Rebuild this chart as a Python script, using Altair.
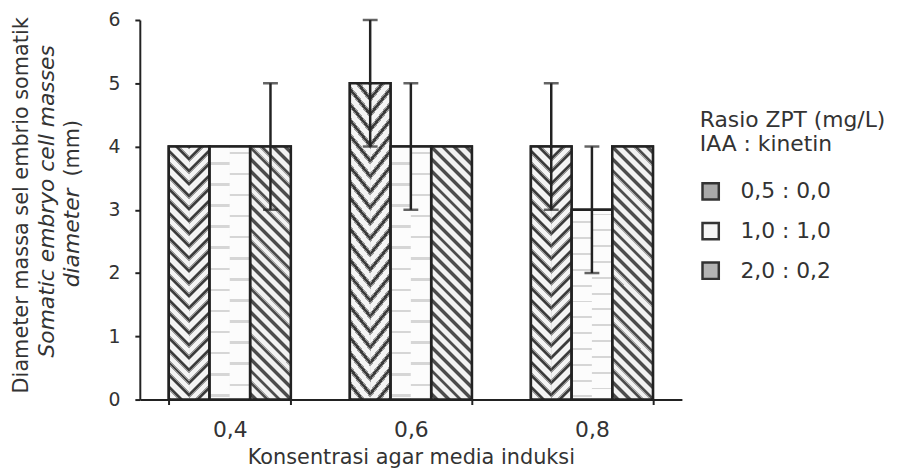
import altair as alt
import pandas as pd

# ---------------- data ----------------
conc = ["0,4", "0,6", "0,8"]
series = ["0,5 : 0,0", "1,0 : 1,0", "2,0 : 0,2"]
mean_s1 = [4, 5, 4]
mean_s2 = [4, 4, 3]
mean_s3 = [4, 4, 4]
err_s1 = [0, 1, 1]
err_s2 = [0, 1, 1]
err_s3 = [1, 0, 0]
legend_fill = ["#a9a9a9", "#f5f5f5", "#b4b4b4"]

y_title_1 = "Diameter massa sel embrio somatik"
y_title_2 = "Somatic embryo cell masses"
y_title_3a = "diameter"
y_title_3b = "(mm)"
x_title = "Konsentrasi agar media induksi"
legend_title = ["Rasio ZPT (mg/L)", "IAA : kinetin"]
y_ticks = [0, 1, 2, 3, 4, 5, 6]

FONT = "DejaVu Sans"
TXT = "#333333"
INK = "#222222"

means = [mean_s1, mean_s2, mean_s3]
errs = [err_s1, err_s2, err_s3]
rows = []
for i, s in enumerate(series):
    for j, c in enumerate(conc):
        m, e = means[i][j], errs[i][j]
        rows.append({"conc": c, "series": s, "mean": m, "err": e,
                     "lo": m - e, "hi": m + e})
df = pd.DataFrame(rows)

halves = [f"{s}|{side}" for s in series for side in ("L", "R")]
hrows = []
for r in rows:
    for side in ("L", "R"):
        d = dict(r)
        d["half"] = f"{r['series']}|{side}"
        hrows.append(d)
dfh = pd.DataFrame(hrows)


# ---------------- pattern fills (linear gradients) ----------------
def gradient(n, template, x1, y1, x2, y2, phase=0.0):
    stops = []
    for k in range(-1, n + 1):
        for a, b, col in template:
            o1 = (k + a + phase) / n
            o2 = (k + b + phase) / n
            o1, o2 = max(0.0, o1), min(1.0, o2)
            if o2 <= o1:
                continue
            stops.append(alt.GradientStop(offset=round(o1, 5), color=col))
            stops.append(alt.GradientStop(offset=round(o2, 5), color=col))
    return alt.LinearGradient(gradient="linear", stops=stops,
                              x1=x1, y1=y1, x2=x2, y2=y2)


chevron_t = [(0.00, 0.12, "#3c3c3c"), (0.12, 0.24, "#9a9a9a"),
             (0.24, 0.76, "#f4f4f4"), (0.76, 0.88, "#9a9a9a"),
             (0.88, 1.00, "#3c3c3c")]
diag_t = [(0.00, 0.25, "#f2f2f2"), (0.25, 0.35, "#a8a8a8"),
          (0.35, 0.65, "#4c4c4c"), (0.65, 0.75, "#a8a8a8"),
          (0.75, 1.00, "#f2f2f2")]
dots_t = [(0.00, 0.74, "#fcfcfc"), (0.74, 0.86, "#d6d6d6"),
          (0.86, 1.00, "#fcfcfc")]

# half bar ~20.5 x 255 px
r_h = 20.5 / 255.0
s_h = (r_h + 1) / (r_h * r_h + 1)
grad_1L = gradient(22, chevron_t, 0, 1, s_h * r_h, 1 - s_h)
grad_1R = gradient(22, chevron_t, 0, 0, s_h * r_h, s_h)
grad_2L = gradient(12, dots_t, 0, 0, 0, 1, 0.0)
grad_2R = gradient(12, dots_t, 0, 0, 0, 1, 0.5)
# full bar ~41 x 255 px
r_f = 41.0 / 255.0
s_f = (r_f + 1) / (r_f * r_f + 1)
grad_3 = gradient(25, diag_t, 0, 1, s_f * r_f, 1 - s_f)

# ---------------- encodings ----------------
x_scale = alt.Scale(paddingInner=0.326, paddingOuter=0.16)
y_scale = alt.Scale(domain=[0, 6])
x_axis = alt.Axis(tickBand="extent", tickSize=5, labelPadding=15,
                  labelFontSize=22, labelAngle=0, titleFontSize=21,
                  titleFontWeight="normal", titlePadding=7)
y_axis = alt.Axis(values=y_ticks, tickSize=5, labelPadding=15,
                  labelFontSize=19, title=None)

X = alt.X("conc:N", sort=conc, scale=x_scale, axis=x_axis, title=x_title)
XO_S = alt.XOffset("series:N", sort=series, scale=alt.Scale(domain=series))
XO_H = alt.XOffset("half:N", sort=halves, scale=alt.Scale(domain=halves))


def Y(field):
    return alt.Y(f"{field}:Q", scale=y_scale, axis=y_axis)


base = alt.Chart(df).mark_bar(stroke=INK, strokeWidth=2.5).encode(
    x=X, xOffset=XO_S, y=Y("mean"),
    color=alt.Color(
        "series:N", sort=series,
        scale=alt.Scale(domain=series, range=legend_fill),
        legend=alt.Legend(
            orient="none", legendX=565, legendY=91, title=legend_title,
            titleFontSize=22, titleFontWeight="normal", titleLineHeight=24,
            titlePadding=25, titleFont=FONT, titleColor=TXT, titleLimit=400,
            labelFontSize=22, labelFont=FONT, labelColor=TXT, labelLimit=300,
            symbolType="square", symbolSize=270, symbolStrokeColor="#333333",
            symbolStrokeWidth=2.5, rowPadding=12, labelOffset=19, padding=0,
        ),
    ),
)


def half_layer(key, grad):
    return alt.Chart(dfh).transform_filter(alt.datum.half == key).mark_bar(
        fill=grad, strokeWidth=0
    ).encode(x=X, xOffset=XO_H, y=Y("mean"))


p1l = half_layer(halves[0], grad_1L)
p1r = half_layer(halves[1], grad_1R)
p2l = half_layer(halves[2], grad_2L)
p2r = half_layer(halves[3], grad_2R)
p3 = alt.Chart(df).transform_filter(alt.datum.series == series[2]).mark_bar(
    fill=grad_3, strokeWidth=0
).encode(x=X, xOffset=XO_S, y=Y("mean"))

outline = alt.Chart(df).mark_bar(
    fillOpacity=0, stroke=INK, strokeWidth=2.5
).encode(x=X, xOffset=XO_S, y=Y("mean"))

err_df = alt.Chart(df).transform_filter(alt.datum.err > 0)
rules = err_df.mark_rule(color=INK, strokeWidth=2.5).encode(
    x=X, xOffset=XO_S, y=Y("lo"), y2="hi:Q")
cap_lo = err_df.mark_tick(color=INK, thickness=2.5, size=15).encode(
    x=X, xOffset=XO_S, y=Y("lo"))
cap_hi = err_df.mark_tick(color=INK, thickness=2.5, size=15).encode(
    x=X, xOffset=XO_S, y=Y("hi"))


# ---------------- y-axis title as text ----------------
def title_text(txt, xpos, ypos, size, style, align):
    return alt.Chart(pd.DataFrame({"t": [txt]})).mark_text(
        angle=270, align=align, baseline="alphabetic", fontSize=size,
        fontStyle=style, font=FONT, color=TXT
    ).encode(text="t:N", x=alt.value(xpos), y=alt.value(ypos))


t1 = title_text(y_title_1, -113, 187, 21, "normal", "center")
t2 = title_text(y_title_2, -87, 183, 22, "italic", "center")
t3a = title_text(y_title_3a, -61, 170, 22, "italic", "right")
t3b = title_text(y_title_3b, -61, 158, 21, "normal", "left")

chart = alt.layer(
    base, p1l, p1r, p2l, p2r, p3, outline, rules, cap_lo, cap_hi,
    t1, t2, t3a, t3b
).resolve_scale(xOffset="independent").properties(
    width=547, height=383,
    autosize=alt.AutoSizeParams(type="none"),
    padding={"left": 133, "top": 10, "right": 213, "bottom": 72},
).configure_view(strokeWidth=0).configure_axis(
    grid=False, domainColor=INK, tickColor=INK, domainWidth=2, tickWidth=2,
    labelColor=TXT, titleColor=TXT, labelFont=FONT, titleFont=FONT,
)

chart.save("out.html", embed_options={"renderer": "svg", "actions": False})
